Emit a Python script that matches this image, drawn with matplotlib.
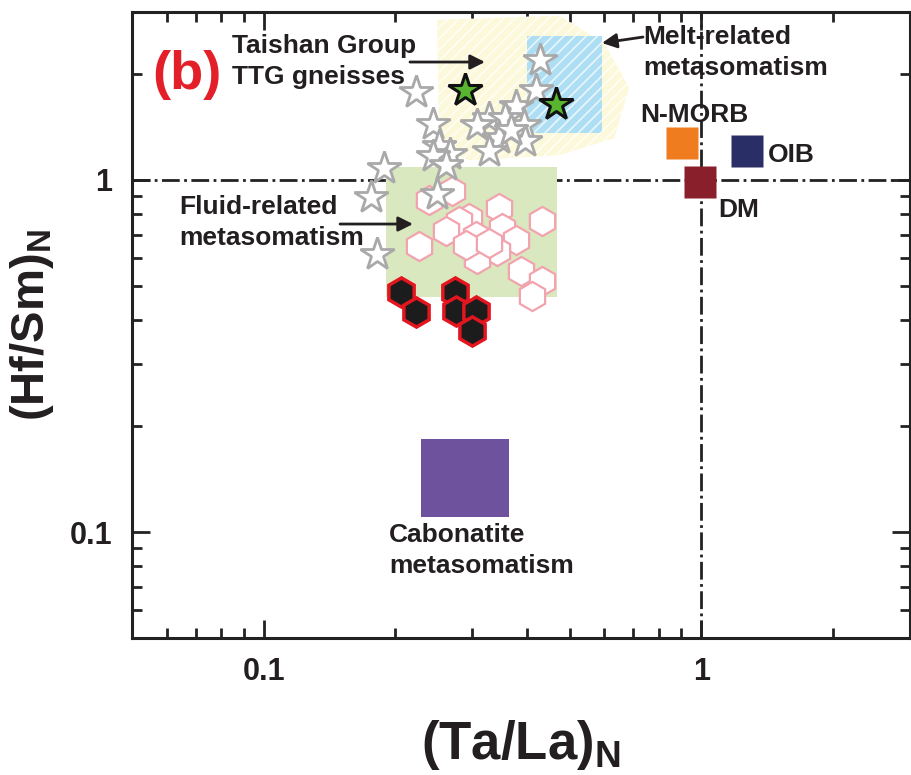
import matplotlib
matplotlib.use("Agg")
import matplotlib.pyplot as plt
from matplotlib.patches import Polygon, Rectangle
from matplotlib.ticker import NullFormatter

plt.rcParams["font.family"] = ["Liberation Sans", "DejaVu Sans"]
plt.rcParams["font.weight"] = "bold"
plt.rcParams["axes.labelweight"] = "bold"
plt.rcParams["mathtext.default"] = "bf"
plt.rcParams["mathtext.fontset"] = "custom"
plt.rcParams["mathtext.bf"] = "Liberation Sans:bold"
plt.rcParams["mathtext.rm"] = "Liberation Sans:bold"
plt.rcParams["hatch.linewidth"] = 1.3

# Taishan Group TTG gneisses (grey open stars)
ttg_x = [0.4285, 0.2232, 0.2440, 0.3777, 0.3276, 0.3076, 0.3565, 0.3940, 0.3453, 0.3276,
         0.3961, 0.2518, 0.2668, 0.2440, 0.1886, 0.1761, 0.1817, 0.2492, 0.2613, 0.3679, 0.4196]
ttg_y = [2.193, 1.778, 1.441, 1.622, 1.499, 1.432, 1.499, 1.432, 1.315, 1.207,
         1.289, 1.247, 1.184, 1.168, 1.080, 0.893, 0.618, 0.911, 1.101, 1.385, 1.801]

# green stars
green_x = [0.2888, 0.4662]
green_y = [1.801, 1.643]

# open hexagons
hex_x = [0.2389, 0.2697, 0.3453, 0.2949, 0.2798, 0.2613, 0.2266, 0.3060, 0.3508, 0.3777,
         0.3417, 0.3076, 0.4331, 0.3877, 0.4331, 0.4109, 0.2903, 0.3276]
hex_y = [0.8754, 0.9286, 0.8307, 0.7777, 0.7625, 0.7144, 0.6474, 0.6913, 0.7286, 0.6731,
         0.6264, 0.5983, 0.7625, 0.5531, 0.5178, 0.4694, 0.6516, 0.6602]

# filled hexagons
black_x = [0.2062, 0.2232, 0.2740, 0.2754, 0.3060, 0.2996]
black_y = [0.4818, 0.4225, 0.4818, 0.4253, 0.4253, 0.3730]

# reference reservoirs
ref_names = ["N-MORB", "OIB", "DM"]
ref_x = [0.902, 1.274, 0.995]
ref_y = [1.276, 1.211, 0.988]
ref_colors = ["#ef7d1f", "#2a2e66", "#8a1f2c"]

# metasomatism fields
fluid_x = [0.19, 0.469]
fluid_y = [0.466, 1.09]
melt_x = [0.400, 0.594]
melt_y = [1.358, 2.57]
carb_x = [0.229, 0.364]
carb_y = [0.110, 0.184]
ttg_field_x = [0.249, 0.4735, 0.600, 0.684, 0.633, 0.4735, 0.295, 0.252]
ttg_field_y = [2.85, 2.93, 2.45, 1.83, 1.315, 1.176, 1.138, 1.231]

fig = plt.figure(figsize=(9.11, 7.75), dpi=100)
ax = fig.add_axes([0.1449, 0.1768, 0.854, 0.8077])
ax.set_xscale("log")
ax.set_yscale("log")
ax.set_xlim(0.05, 3)
ax.set_ylim(0.05, 3)

ax.axhline(1, color="#222222", lw=2, ls="-.", zorder=1)
ax.axvline(1, color="#222222", lw=2, ls="-.", zorder=1)

ax.add_patch(Polygon(list(zip(ttg_field_x, ttg_field_y)), closed=True, facecolor="#fcf9da",
                     edgecolor="#fffdf4", hatch="///", lw=0, zorder=2))
ax.add_patch(Rectangle((melt_x[0], melt_y[0]), melt_x[1] - melt_x[0], melt_y[1] - melt_y[0],
                       facecolor="#addef3", edgecolor="#e6f5fb", hatch="///", lw=0, zorder=3))
ax.add_patch(Rectangle((fluid_x[0], fluid_y[0]), fluid_x[1] - fluid_x[0], fluid_y[1] - fluid_y[0],
                       facecolor="#d9e8bf", edgecolor="none", zorder=3))
ax.add_patch(Rectangle((carb_x[0], carb_y[0]), carb_x[1] - carb_x[0], carb_y[1] - carb_y[0],
                       facecolor="#6e529d", edgecolor="none", zorder=3))

ax.plot(hex_x, hex_y, ls="none", marker="h", ms=21, mfc="white", mec="#f2a3ad", mew=1.6, zorder=4)
ax.plot(black_x, black_y, ls="none", marker="h", ms=21, mfc="#1c1c1c", mec="#e3151f", mew=2.5, zorder=5)
ax.plot(ttg_x, ttg_y, ls="none", marker="*", ms=25, mfc="white", mec="#a9a9a9", mew=2, zorder=6)
ax.plot(green_x, green_y, ls="none", marker="*", ms=25, mfc="#59b52f", mec="#111111", mew=2.2, zorder=7)

for name, x, y, c in zip(ref_names, ref_x, ref_y, ref_colors):
    ax.plot(x, y, ls="none", marker="s", ms=23, mfc=c, mec="none", zorder=5)

tcol = "#231f20"
ax.text(0.0257, 0.899, "(b)", transform=ax.transAxes, color="#e3202a", fontsize=39,
        ha="left", va="center")
ax.text(0.1285, 0.921, "Taishan Group\nTTG gneisses", transform=ax.transAxes, color=tcol,
        fontsize=19, ha="left", va="center", linespacing=1.4)
ax.text(0.0604, 0.6637, "Fluid-related\nmetasomatism", transform=ax.transAxes, color=tcol,
        fontsize=19, ha="left", va="center", linespacing=1.4)
ax.text(0.6568, 0.9353, "Melt-related\nmetasomatism", transform=ax.transAxes, color=tcol,
        fontsize=19, ha="left", va="center", linespacing=1.4)
ax.text(0.653, 0.8355, "N-MORB", transform=ax.transAxes, color=tcol, fontsize=19,
        ha="left", va="center")
ax.text(0.8175, 0.7716, "OIB", transform=ax.transAxes, color=tcol, fontsize=19,
        ha="left", va="center")
ax.text(0.7532, 0.6837, "DM", transform=ax.transAxes, color=tcol, fontsize=19,
        ha="left", va="center")
ax.text(0.3303, 0.1398, "Cabonatite\nmetasomatism", transform=ax.transAxes, color=tcol,
        fontsize=19, ha="left", va="center", linespacing=1.4)

arrow = dict(arrowstyle="-|>", color=tcol, lw=2, mutation_scale=22, shrinkA=0, shrinkB=0)
ax.annotate("", xy=(0.4537, 0.9201), xytext=(0.3573, 0.9201), xycoords="axes fraction",
            arrowprops=arrow, zorder=8)
ax.annotate("", xy=(0.3612, 0.6613), xytext=(0.2674, 0.6613), xycoords="axes fraction",
            arrowprops=arrow, zorder=8)
ax.annotate("", xy=(0.6041, 0.9505), xytext=(0.6568, 0.960), xycoords="axes fraction",
            arrowprops=arrow, zorder=8)

for s in ax.spines.values():
    s.set_linewidth(2.2)
    s.set_color("#222222")
ax.set_xticks([0.1, 1])
ax.set_xticklabels(["0.1", "1"])
ax.set_yticks([0.1, 1])
ax.set_yticklabels(["0.1", "1"])
ax.xaxis.set_minor_formatter(NullFormatter())
ax.yaxis.set_minor_formatter(NullFormatter())
ax.tick_params(which="both", direction="in", top=True, right=True, width=2, color="#222222",
               labelsize=22, pad=14, labelcolor=tcol)
ax.tick_params(which="major", length=13)
ax.tick_params(which="minor", length=7)

ax.set_xlabel("(Ta/La)$_{\\mathbf{N}}$", fontsize=38, fontweight="bold", color=tcol, labelpad=22)
ax.set_ylabel("(Hf/Sm)$_{\\mathbf{N}}$", fontsize=34, fontweight="bold", color=tcol, labelpad=10)

fig.savefig("out.png", dpi=100)
